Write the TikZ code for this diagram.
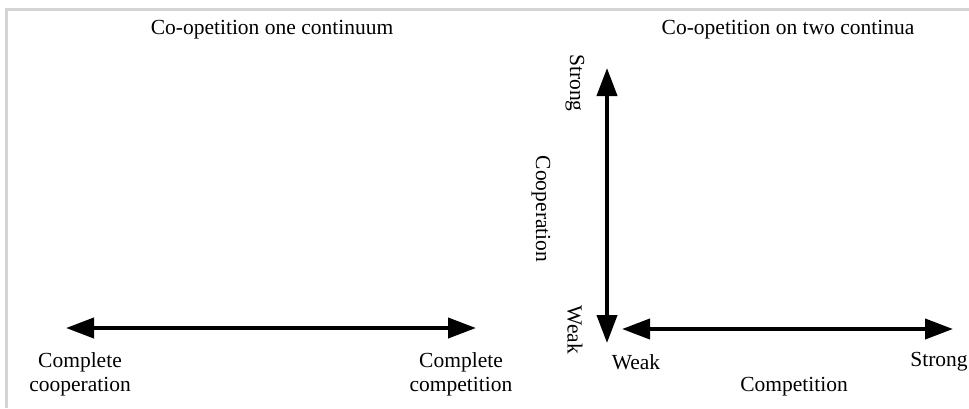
\documentclass[tikz,border=0pt]{standalone}
\usepackage{fontspec}
\setmainfont{Liberation Serif}
\usetikzlibrary{arrows.meta}
\definecolor{framegray}{HTML}{D4D4D4}
\begin{document}
\begin{tikzpicture}[x=1pt,y=-1pt,
  lbl/.style={inner sep=0pt,font=\fontsize{21.5}{24}\selectfont},
  dblarrow/.style={line width=4pt,{Triangle[length=28pt,width=20pt]}-{Triangle[length=28pt,width=20pt]}}]
  \useasboundingbox (0,0) rectangle (969,408);
  % light frame along the top and left edges
  \draw[framegray,line width=3pt] (6.5,408) -- (6.5,9.5) -- (969,9.5);

  % left panel: a single continuum
  \node[lbl] (t1) at (272,30) {Co-opetition one continuum};
  \coordinate (L1) at (66,328);
  \coordinate (L2) at (476,328);
  \draw[dblarrow] (L1) -- (L2);
  \node[lbl,align=center] (cc) at (80,374) {Complete\\cooperation};
  \node[lbl,align=center] (cp) at (461,374) {Complete\\competition};

  % right panel: two continua
  \node[lbl] (t2) at (788,30) {Co-opetition on two continua};
  \coordinate (V1) at (607,68);
  \coordinate (V2) at (607,343);
  \draw[dblarrow] (V1) -- (V2);
  \coordinate (H1) at (622,329);
  \coordinate (H2) at (953,329);
  \draw[dblarrow] (H1) -- (H2);
  \node[lbl,rotate=-90] (vs) at (575,83) {Strong};
  \node[lbl,rotate=-90] (vw) at (575,330) {Weak};
  \node[lbl,rotate=-90] (vc) at (541,209) {Cooperation};
  \node[lbl] (hw) at (636,362) {Weak};
  \node[lbl] (hs) at (939,362) {Strong};
  \node[lbl] (hc) at (794,387) {Competition};
\end{tikzpicture}
\end{document}
